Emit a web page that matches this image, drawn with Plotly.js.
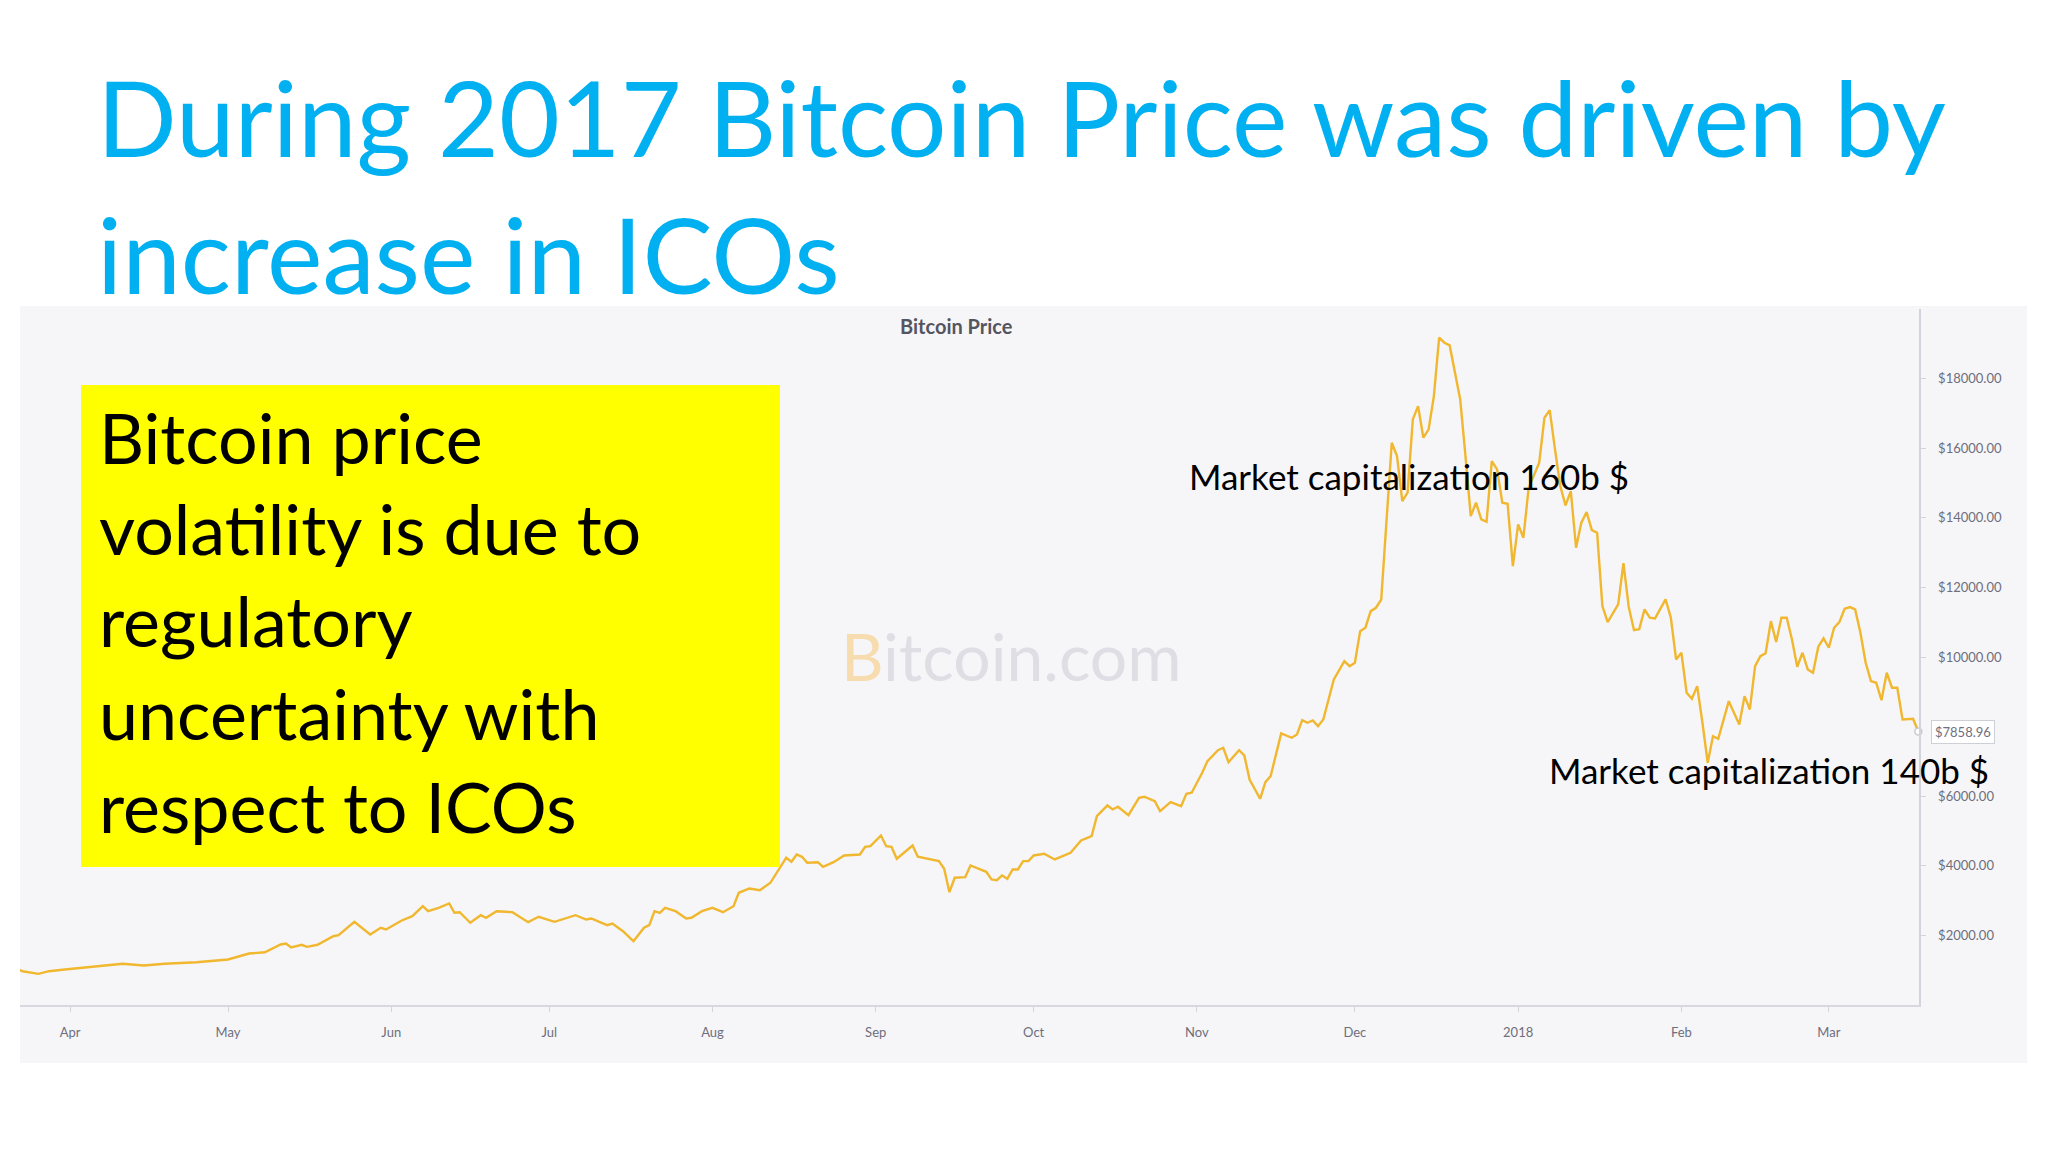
<!DOCTYPE html>
<html>
<head>
<meta charset="utf-8">
<script src="https://cdn.plot.ly/plotly-3.0.1.min.js"></script>
<style>
  html, body { margin: 0; padding: 0; background: #ffffff; }
  #chart { width: 2048px; height: 1152px; }
</style>
</head>
<body>
<div id="chart"></div>
<script>
// ---------------- DATA ----------------
const dates = [
  '2017-03-22','2017-03-23','2017-03-26','2017-03-28','2017-03-31',
  '2017-04-03','2017-04-06','2017-04-11','2017-04-15','2017-04-19','2017-04-25','2017-04-29',
  '2017-05-01','2017-05-05','2017-05-08','2017-05-11','2017-05-12','2017-05-13','2017-05-15','2017-05-16',
  '2017-05-18','2017-05-21','2017-05-22','2017-05-25','2017-05-28','2017-05-30','2017-05-31',
  '2017-06-03','2017-06-05','2017-06-07','2017-06-08','2017-06-10','2017-06-12','2017-06-13','2017-06-14',
  '2017-06-16','2017-06-18','2017-06-19','2017-06-21','2017-06-24','2017-06-27','2017-06-29',
  '2017-07-02','2017-07-06','2017-07-08','2017-07-09','2017-07-12','2017-07-13','2017-07-15','2017-07-17',
  '2017-07-19','2017-07-20','2017-07-21','2017-07-22','2017-07-23','2017-07-25','2017-07-27','2017-07-28','2017-07-30',
  '2017-08-01','2017-08-03','2017-08-05','2017-08-06','2017-08-08','2017-08-10','2017-08-12','2017-08-14',
  '2017-08-15','2017-08-16','2017-08-17','2017-08-18','2017-08-19','2017-08-21','2017-08-22','2017-08-24',
  '2017-08-26','2017-08-29','2017-08-30','2017-08-31',
  '2017-09-02','2017-09-03','2017-09-04','2017-09-05','2017-09-08','2017-09-09','2017-09-13','2017-09-14',
  '2017-09-15','2017-09-16','2017-09-18','2017-09-19','2017-09-21','2017-09-22','2017-09-23','2017-09-24',
  '2017-09-25','2017-09-26','2017-09-27','2017-09-28','2017-09-29','2017-09-30',
  '2017-10-01','2017-10-03','2017-10-05','2017-10-07','2017-10-08','2017-10-10','2017-10-12','2017-10-13',
  '2017-10-15','2017-10-16','2017-10-17','2017-10-19','2017-10-21','2017-10-22','2017-10-24','2017-10-25',
  '2017-10-27','2017-10-29','2017-10-30','2017-10-31',
  '2017-11-02','2017-11-03','2017-11-05','2017-11-06','2017-11-07','2017-11-09','2017-11-10','2017-11-11',
  '2017-11-13','2017-11-14','2017-11-15','2017-11-17','2017-11-19','2017-11-20','2017-11-21','2017-11-22',
  '2017-11-23','2017-11-24','2017-11-25','2017-11-27','2017-11-29','2017-11-30',
  '2017-12-01','2017-12-02','2017-12-03','2017-12-04','2017-12-05','2017-12-06','2017-12-08','2017-12-09',
  '2017-12-10','2017-12-11','2017-12-12','2017-12-13','2017-12-14','2017-12-15','2017-12-16','2017-12-17',
  '2017-12-18','2017-12-19','2017-12-21','2017-12-22','2017-12-23','2017-12-24','2017-12-25','2017-12-26',
  '2017-12-27','2017-12-28','2017-12-29','2017-12-30','2017-12-31',
  '2018-01-01','2018-01-02','2018-01-03','2018-01-05','2018-01-06','2018-01-07','2018-01-08','2018-01-09',
  '2018-01-10','2018-01-11','2018-01-12','2018-01-13','2018-01-14','2018-01-15','2018-01-16','2018-01-17',
  '2018-01-18','2018-01-20','2018-01-21','2018-01-22','2018-01-23','2018-01-24','2018-01-25','2018-01-26',
  '2018-01-27','2018-01-29','2018-01-30','2018-01-31',
  '2018-02-01','2018-02-02','2018-02-03','2018-02-04','2018-02-05','2018-02-06','2018-02-07','2018-02-08',
  '2018-02-10','2018-02-12','2018-02-13','2018-02-14','2018-02-15','2018-02-16','2018-02-17','2018-02-18',
  '2018-02-19','2018-02-20','2018-02-21','2018-02-22','2018-02-23','2018-02-24','2018-02-25','2018-02-26',
  '2018-02-27','2018-02-28',
  '2018-03-01','2018-03-02','2018-03-03','2018-03-04','2018-03-05','2018-03-06','2018-03-07','2018-03-08',
  '2018-03-09','2018-03-10','2018-03-11','2018-03-12','2018-03-13','2018-03-14','2018-03-15','2018-03-16',
  '2018-03-17','2018-03-18'
];
const prices = [
  1020, 971, 896, 971, 1020,
  1069, 1115, 1184, 1135, 1184, 1230, 1288,
  1308, 1480, 1517, 1739, 1767, 1652, 1730, 1672,
  1730, 1977, 2006, 2391, 2026, 2219, 2170,
  2428, 2553, 2840, 2696, 2793, 2917, 2650, 2667,
  2362, 2581, 2506, 2696, 2667, 2380, 2535,
  2391, 2581, 2457, 2486, 2293, 2342, 2121, 1834,
  2219, 2293, 2696, 2650, 2793, 2696, 2486, 2506, 2696,
  2793, 2667, 2840, 3225, 3348, 3299, 3512, 3989,
  4231, 4116, 4325, 4259, 4087, 4104, 3972, 4104,
  4297, 4325, 4547, 4564,
  4871, 4564, 4547, 4202, 4584, 4259, 4133, 3914,
  3242, 3656, 3673, 4009, 3874, 3828, 3607, 3587,
  3722, 3627, 3894, 3894, 4133, 4133,
  4297, 4345, 4182, 4297, 4374, 4728, 4851, 5426,
  5734, 5619, 5696, 5455, 5955, 5984, 5858, 5570,
  5829, 5714, 6070, 6099,
  6673, 7007, 7323, 7392, 6978, 7323, 7171, 6481,
  5926, 6403, 6576, 7803, 7679, 7774, 8185, 8110,
  8176, 8013, 8205, 9355, 9881, 9737,
  9835, 10743, 10841, 11318, 11415, 11650, 16157, 15773,
  14479, 14720, 16827, 17209, 16301, 16540, 17497, 19175,
  19031, 18954, 17402, 15773, 14048, 14433, 13953, 13887,
  15629, 15390, 14433, 14404, 12611,
  13810, 13427, 14864, 15583, 16876, 17094, 15965, 14910,
  14355, 14767, 13140, 13858, 14163, 13646, 13571, 11462,
  11002, 11510, 12700, 11440, 10770, 10800, 11367, 11128,
  11108, 11654, 11128, 9930,
  10122, 8972, 8800, 9162, 8110, 6961, 7725, 7650,
  8731, 8061, 8875, 8493, 9737, 10024, 10110, 11030,
  10430, 11128, 11128, 10504, 9720, 10122, 9642, 9547,
  10295, 10533,
  10266, 10841, 11002, 11386, 11433, 11367, 10697, 9835,
  9306, 9260, 8760, 9547, 9116, 9116, 8205, 8225,
  8225, 7858.96
];
const monthTicks  = ['2017-04-01','2017-05-01','2017-06-01','2017-07-01','2017-08-01','2017-09-01',
                     '2017-10-01','2017-11-01','2017-12-01','2018-01-01','2018-02-01','2018-03-01'];
const monthLabels = ['Apr','May','Jun','Jul','Aug','Sep','Oct','Nov','Dec','2018','Feb','Mar'];
const priceTicks  = [2000, 4000, 6000, 10000, 12000, 14000, 16000, 18000];
const priceLabels = priceTicks.map(v => '$' + v.toFixed(2));

const slideTitle  = 'During 2017 Bitcoin Price was driven by<br>increase in ICOs';
const chartTitle  = 'Bitcoin Price';
const boxLines    = ['Bitcoin price', 'volatility is due to', 'regulatory', 'uncertainty with', 'respect to ICOs'];
const capNotes    = ['Market capitalization 160b $', 'Market capitalization 140b $'];

// ---------------- LAYOUT helpers (pixel -> paper) ----------------
const W = 2048, H = 1152;
const M = {l: 20, r: 129, t: 309, b: 147};
const PW = W - M.l - M.r, PH = H - M.t - M.b;
const px = x => (x - M.l) / PW;
const py = y => (H - M.b - y) / PH;

const FONT = 'Lato, "Open Sans", sans-serif';
const lineColor = '#f0b72f';
const lastDate = dates[dates.length - 1];
const lastPrice = prices[prices.length - 1];

const traces = [
  {
    type: 'scatter', mode: 'lines',
    x: dates, y: prices,
    line: {color: lineColor, width: 2.4},
    hoverinfo: 'skip'
  },
  {
    type: 'scatter', mode: 'markers',
    x: [lastDate], y: [lastPrice],
    marker: {size: 7, color: '#ffffff', line: {color: '#c9c9d2', width: 1.5}},
    cliponaxis: false, hoverinfo: 'skip'
  }
];

const annotations = [
  {xref: 'paper', yref: 'paper', x: px(956), y: py(326), xanchor: 'center', yanchor: 'middle',
   text: chartTitle, showarrow: false,
   font: {family: FONT, size: 20, weight: 'bold', color: '#555560'}},
  {xref: 'paper', yref: 'paper', x: px(1011), y: py(655), xanchor: 'center', yanchor: 'middle',
   text: '<span style="color:#f6dcae">B</span>itcoin.com', showarrow: false,
   font: {family: FONT, size: 66, color: '#dedee4'}},
  {xref: 'paper', yref: 'y', x: 1, y: lastPrice, xanchor: 'left', yanchor: 'middle', xshift: 12,
   text: '$' + lastPrice.toFixed(2), showarrow: false,
   bgcolor: '#ffffff', bordercolor: '#cfcfd6', borderwidth: 1, borderpad: 3,
   font: {family: FONT, size: 13, color: '#70707e'}}
];

const boxCenters = [437, 528, 620, 713, 806];
boxLines.forEach((t, i) => annotations.push({
  xref: 'paper', yref: 'paper', x: px(97), y: py(boxCenters[i]), xanchor: 'left', yanchor: 'middle',
  text: t, showarrow: false, font: {family: FONT, size: 70, color: '#000000'}
}));

annotations.push({xref: 'paper', yref: 'paper', x: px(1187), y: py(476), xanchor: 'left', yanchor: 'middle',
  text: capNotes[0], showarrow: false, font: {family: FONT, size: 35, color: '#000000'}});
annotations.push({xref: 'paper', yref: 'paper', x: px(1547), y: py(770), xanchor: 'left', yanchor: 'middle',
  text: capNotes[1], showarrow: false, font: {family: FONT, size: 35, color: '#000000'}});

const layout = {
  width: W, height: H,
  margin: {l: M.l, r: M.r, t: M.t, b: M.b, autoexpand: false},
  paper_bgcolor: '#ffffff',
  plot_bgcolor: 'rgba(0,0,0,0)',
  showlegend: false,
  title: {
    text: slideTitle,
    xref: 'container', yref: 'container',
    x: 97 / W, xanchor: 'left',
    y: 1 - 157 / H, yanchor: 'top',
    font: {family: FONT, size: 105, color: '#00b0f0'}
  },
  xaxis: {
    type: 'date',
    range: ['2017-03-22 12:00', '2018-03-18 03:00'],
    tickmode: 'array', tickvals: monthTicks, ticktext: monthLabels,
    ticks: 'outside', ticklen: 5, tickwidth: 1, tickcolor: '#d3d3db',
    showline: true, linecolor: '#d8d8e0', linewidth: 2,
    showgrid: false, zeroline: false,
    ticklabelstandoff: 9,
    tickfont: {family: FONT, size: 13, color: '#6e6e7c'},
    fixedrange: true
  },
  yaxis: {
    side: 'right',
    range: [0, 20000],
    tickmode: 'array', tickvals: priceTicks, ticktext: priceLabels,
    ticks: 'outside', ticklen: 5, tickwidth: 1, tickcolor: '#d3d3db',
    showline: true, linecolor: '#d3d3db', linewidth: 1.5,
    showgrid: false, zeroline: false,
    ticklabelstandoff: 10,
    tickfont: {family: FONT, size: 13, color: '#6e6e7c'},
    fixedrange: true
  },
  shapes: [
    {type: 'rect', xref: 'paper', yref: 'paper', layer: 'below',
     x0: px(20), x1: px(2027), y0: py(1063), y1: py(306),
     fillcolor: '#f6f6f9', line: {width: 0}},
    {type: 'rect', xref: 'paper', yref: 'paper', layer: 'above',
     x0: px(81), x1: px(780), y0: py(867), y1: py(385),
     fillcolor: '#ffff00', line: {width: 0}}
  ],
  annotations: annotations
};

Plotly.newPlot('chart', traces, layout, {displayModeBar: false, staticPlot: true});
</script>
</body>
</html>
